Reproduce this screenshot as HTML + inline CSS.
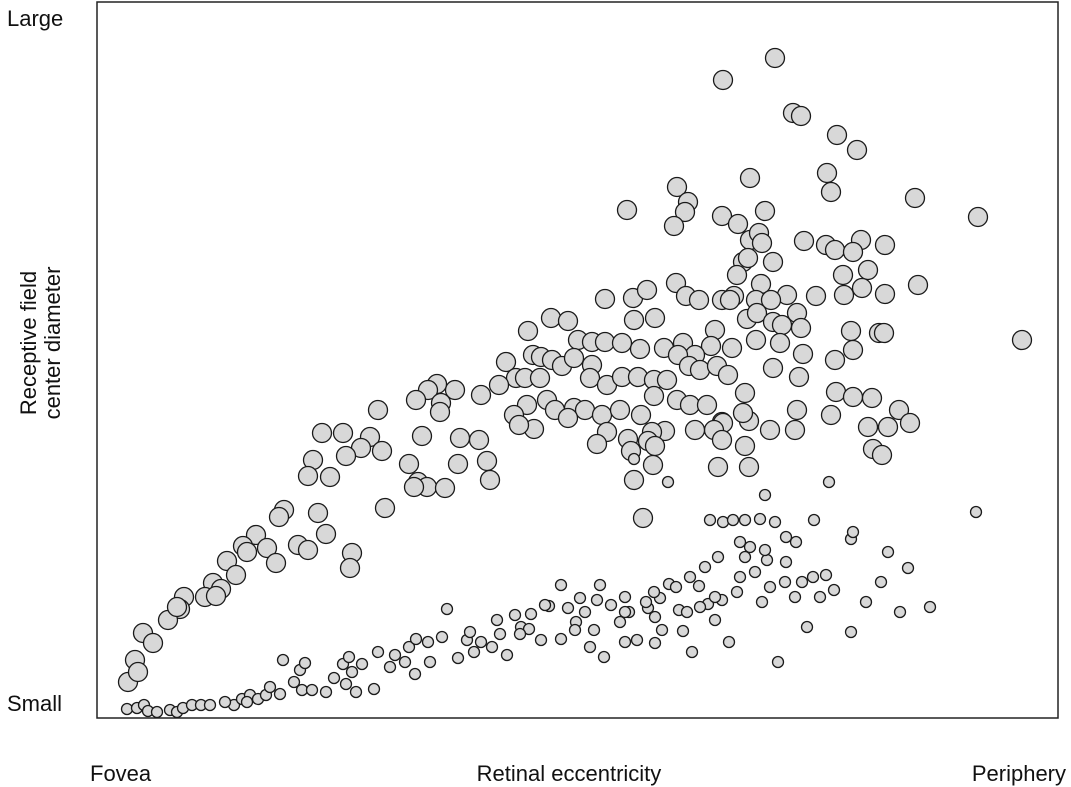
<!DOCTYPE html>
<html><head><meta charset="utf-8"><style>
html,body{margin:0;padding:0;background:#fff;}
svg{display:block;font-family:"Liberation Sans",Arial,sans-serif;}
</style></head><body>
<svg id="chart" width="1071" height="787">
<rect x="97" y="2" width="961" height="716" fill="#fff" stroke="#222" stroke-width="1.5"/>
<g id="marks"></g>
<text x="7" y="26" font-size="22" fill="#111">Large</text>
<text x="7" y="711" font-size="22" fill="#111">Small</text>
<text x="90" y="781" font-size="22" fill="#111">Fovea</text>
<text x="569" y="781" font-size="22" fill="#111" text-anchor="middle">Retinal eccentricity</text>
<text x="1066" y="781" font-size="22" fill="#111" text-anchor="end">Periphery</text>
<g transform="translate(36,343) rotate(-90)">
<text x="0" y="0" font-size="22" fill="#111" text-anchor="middle">Receptive field</text>
<text x="0" y="24" font-size="22" fill="#111" text-anchor="middle">center diameter</text>
</g>
</svg>
<script>
// Eccentricity (x) and diameter (y) in plot units (x: 0..961, y: 0..716 from bottom)
const largeX = [678,626,696,704,740,760,730,734,580,591,
588,530,653,625,641,668,577,653,662,665,
818,881,707,729,738,764,788,756,746,771,
646,651,640,676,664,637,508,536,550,579,
589,602,625,633,659,690,674,719,747,765,
788,821,925,454,
471,431,537,558,481,495,508,525,543,567,586,618,650,660,676,685,700,704,683,659,635,614,598,581,754,782,787,756,738,706,
436,444,409,419,428,443,455,465,477,495,493,510,525,541,557,570,592,603,620,631,676,702,
402,384,358,340,331,319,344,343,281,
430,450,458,477,488,505,523,544,557,580,593,610,648,625,652,
739,756,775,802,734,700,673,698,646,626,617,598,568,555,551,531,510,500,471,437,417,422,
225,246,273,264,249,216,233,211,285,325,363,361,382,390,393,312,321,330,348,317,288,
625,648,621,652,771,791,813,776,785,537,556,558,534,
187,182,221,229,201,211,159,170,146,130,139,150,179,255,253,
116,124,108,87,83,71,80,46,56,38,31,41,546,119];
const largeY = [660,638,605,602,583,568,545,526,531,516,
506,508,540,502,494,507,492,478,485,475,
520,501,477,473,468,478,473,466,443,448,
456,460,443,456,434,422,419,420,428,435,
422,418,418,418,418,423,418,422,423,430,
424,433,378,400,
397,387,398,400,378,376,376,375,369,370,375,388,399,405,396,393,405,390,375,378,370,372,363,363,387,385,385,368,358,364,
363,361,356,340,340,340,358,352,360,353,340,333,341,341,338,338,352,348,352,343,350,341,
333,323,328,334,328,318,315,306,308,
313,318,308,310,308,303,308,303,322,318,313,313,325,296,297,
326,321,320,308,303,308,288,288,305,295,288,288,287,286,277,279,286,274,300,289,303,293,
285,285,281,270,262,258,241,242,267,282,280,254,278,257,238,254,236,231,230,231,210,
278,272,251,251,291,291,295,269,263,238,253,272,267,
208,201,205,184,173,168,183,170,172,157,143,166,155,165,150,
135,129,121,121,109,98,111,85,75,58,36,46,200,122];
const smallX = [30,40,47,51,60,73,80,86,95,104,113,137,145,153,161,169,173,183,197,205,215,203,186,208,237,249,259,277,255,246,252,281,298,308,312,319,331,345,350,361,370,377,384,395,403,410,424,434,432,444,452,464,471,479,488,497,507,514,523,532,540,551,558,565,572,582,586,595,602,611,618,625,632,640,648,658,665,673,681,689,698,705,710,716,723,729,737,754,756,769,784,791,803,811,833,879,754,717,626,636,648,663,678,689,699,643,653,670,621,608,593,579,563,549,528,500,483,464,448,418,400,423,478,503,528,557,590,613,668,732,571,537,668,688,643,618,603,558,528,493,373,333,318,293,265,229,128,150];
const smallY = [9,10,13,7,6,8,6,10,13,13,13,13,19,23,19,23,31,24,36,28,28,48,58,55,40,34,26,29,46,54,61,66,63,56,71,79,76,81,109,60,78,66,76,71,84,63,91,104,89,78,112,79,110,96,106,88,61,113,96,106,78,110,75,88,134,108,87,66,132,114,98,118,76,126,161,146,116,131,56,156,121,136,91,141,121,143,128,179,186,116,136,166,106,150,111,206,86,198,196,198,198,199,196,181,176,176,171,158,161,151,141,131,120,116,106,118,120,133,113,103,98,84,88,133,121,126,106,198,168,236,236,259,223,136,141,121,111,101,76,71,86,56,44,51,54,26,16,16];
const X0=97, Y0=718;
function xScale(v){return X0+v;}
function yScale(v){return Y0-v;}
const g=document.getElementById('marks');
const NS='http://www.w3.org/2000/svg';
function draw(xs,ys,r,name){
  const n=Math.min(xs.length,ys.length);
  for(let i=0;i<n;i++){
    const c=document.createElementNS(NS,'circle');
    c.setAttribute('cx',xScale(xs[i]));
    c.setAttribute('cy',yScale(ys[i]));
    c.setAttribute('r',r);
    c.setAttribute('fill','#d8d8d8');
    c.setAttribute('stroke','#1a1a1a');
    c.setAttribute('stroke-width','1.3');
    
    
    g.appendChild(c);
  }
}
draw(largeX,largeY,9.5,'large-point');
draw(smallX,smallY,5.5,'small-point');
</script>
</body></html>
